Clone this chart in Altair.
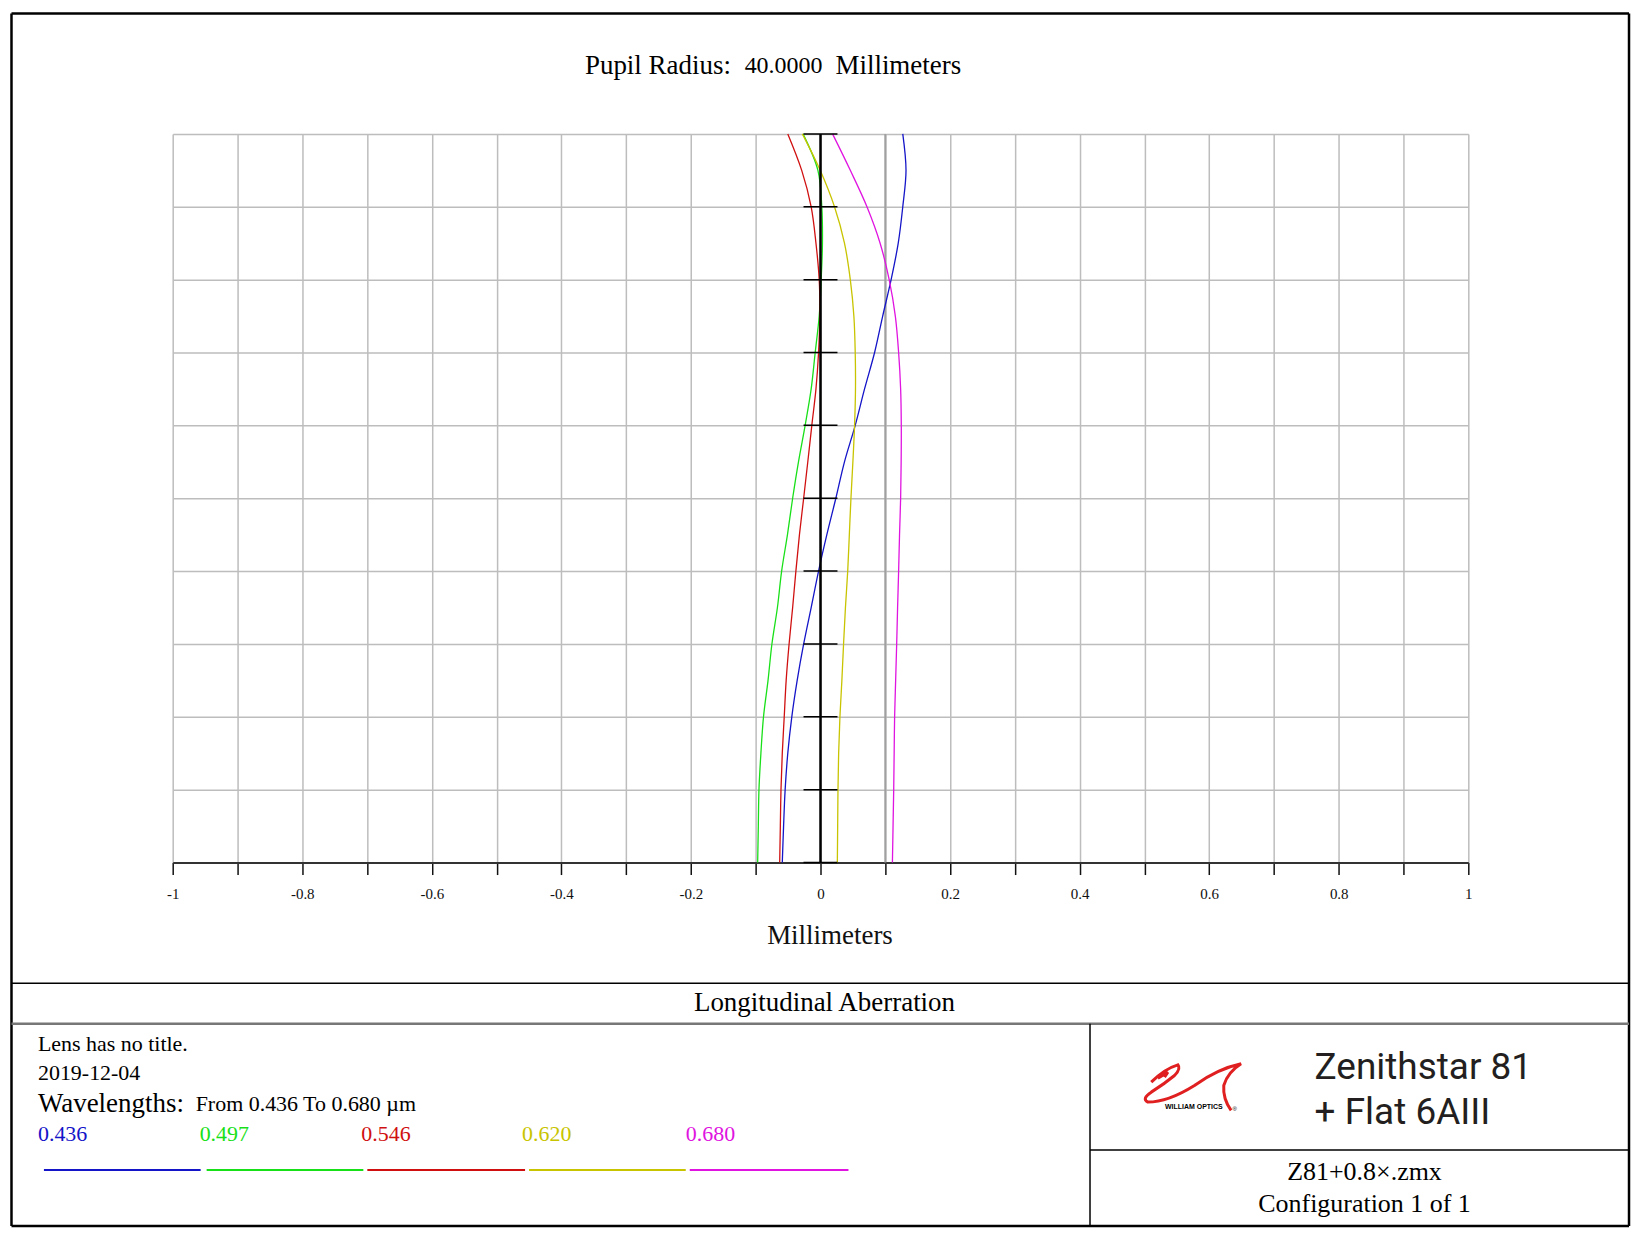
import altair as alt
import pandas as pd

# ---------------- data ----------------
pupil = [0.0, 0.05, 0.1, 0.15, 0.2, 0.25, 0.3, 0.35, 0.4, 0.45, 0.5, 0.55,
         0.6, 0.65, 0.7, 0.75, 0.8, 0.85, 0.9, 0.95, 1.0]
wl_436 = [-0.059, -0.057, -0.0546, -0.0505, -0.0443, -0.036, -0.026, -0.0144, -0.003, 0.0098, 0.0237, 0.037,
          0.0536, 0.068, 0.0835, 0.096, 0.109, 0.120, 0.127, 0.132, 0.127]
wl_497 = [-0.097, -0.096, -0.095, -0.092, -0.088, -0.081, -0.075, -0.0665, -0.060, -0.051, -0.043, -0.034,
          -0.0237, -0.0144, -0.0082, -0.002, 0.001, 0.003, 0.002, -0.004, -0.027]
wl_546 = [-0.063, -0.062, -0.061, -0.059, -0.056, -0.053, -0.0485, -0.043, -0.038, -0.0325, -0.026, -0.0196,
          -0.0134, -0.007, -0.003, -0.001, -0.002, -0.007, -0.0144, -0.029, -0.0505]
wl_620 = [0.026, 0.0265, 0.027, 0.028, 0.030, 0.033, 0.0356, 0.0385, 0.042, 0.0445, 0.047, 0.050,
          0.0526, 0.054, 0.0536, 0.0515, 0.046, 0.037, 0.0216, -0.0005, -0.028]
wl_680 = [0.111, 0.112, 0.113, 0.1137, 0.1144, 0.116, 0.1176, 0.119, 0.1206, 0.122, 0.1237, 0.1245,
          0.1247, 0.1237, 0.1206, 0.1155, 0.106, 0.092, 0.0717, 0.046, 0.0186]

wavelengths = ["0.436", "0.497", "0.546", "0.620", "0.680"]
series = [wl_436, wl_497, wl_546, wl_620, wl_680]
colors = ["#1414c8", "#18e018", "#d01010", "#c8c400", "#e014e0"]

x_ticks = [round(i * 0.1, 1) for i in range(-10, 11)]
y_ticks = [round(i * 0.1, 1) for i in range(0, 11)]

title_parts = ["Pupil Radius:", "40.0000", "Millimeters"]
x_title = "Millimeters"
footer_title = "Longitudinal Aberration"
info_lines = ["Lens has no title.", "2019-12-04"]
wl_head = ["Wavelengths:", "From 0.436 To 0.680 µm"]
brand = ["Zenithstar 81", "+ Flat 6AIII"]
logo_text = ["WILLIAM OPTICS", "®"]
file_lines = ["Z81+0.8×.zmx", "Configuration 1 of 1"]

rows = []
for name, vals in zip(wavelengths, series):
    for i, (p, v) in enumerate(zip(pupil, vals)):
        rows.append({"wl": name, "pupil": p, "mm": v, "i": i})
df = pd.DataFrame(rows)

SERIF = "Liberation Serif"
SANS = "Roboto"
one = pd.DataFrame({"k": [0]})

# ---------------- plot area ----------------
x_enc = alt.X("mm:Q", scale=alt.Scale(domain=[-1, 1], nice=False, zero=False),
              axis=alt.Axis(values=x_ticks, grid=True, gridColor="#bdbdbd", gridWidth=1.5,
                            labelExpr="(round(datum.value*10) % 2 == 0) ? toString(round(datum.value*10)/10) : ''",
                            labelFont=SERIF, labelFontSize=15, labelColor="#111", labelPadding=12,
                            labelFlush=False,
                            tickSize=12, tickColor="#111", tickWidth=1.5,
                            domainColor="#333", domainWidth=2,
                            title=x_title, titleFont=SERIF, titleFontSize=27, titleFontWeight="normal",
                            titleColor="#111", titleX=658, titleY=73, titleBaseline="middle",
                            titleAlign="center"))
y_enc = alt.Y("pupil:Q", scale=alt.Scale(domain=[0, 1], nice=False),
              axis=alt.Axis(values=y_ticks, grid=True, gridColor="#bdbdbd", gridWidth=1.5,
                            labels=False, ticks=False, domain=False, title=None))

curves = alt.Chart(df).mark_line(strokeWidth=1.3, interpolate="catmull-rom").encode(
    x=x_enc, y=y_enc,
    color=alt.Color("wl:N", scale=alt.Scale(domain=wavelengths, range=colors), legend=None),
    order="i:Q",
)

dark_grid = alt.Chart(pd.DataFrame({"mm": [0.1]})).mark_rule(color="#a0a0a0", strokeWidth=2).encode(x="mm:Q")
center_axis = alt.Chart(pd.DataFrame({"mm": [0.0]})).mark_rule(color="black", strokeWidth=2.5).encode(x="mm:Q")
center_ticks = alt.Chart(pd.DataFrame({"mm": [0.0] * len(y_ticks), "pupil": y_ticks})).mark_tick(
    orient="horizontal", size=34, thickness=1.5, color="black", opacity=1
).encode(x="mm:Q", y="pupil:Q")


# ---------------- decorations (pixel positions relative to plot origin) ----------------
def txt(s, x, y, size, color="black", font=SERIF, align="left", weight="normal"):
    return alt.Chart(pd.DataFrame({"t": [s]})).mark_text(
        align=align, baseline="middle", font=font, fontSize=size, color=color, fontWeight=weight
    ).encode(x=alt.value(x), y=alt.value(y), text="t:N")


def rule(x1, x2, y1, y2, color="black", width=2):
    return alt.Chart(one).mark_rule(color=color, strokeWidth=width).encode(
        x=alt.value(x1), x2=alt.value(x2), y=alt.value(y1), y2=alt.value(y2))


L, R, T, B = -161.5, 1459, -120.5, 1094
deco = [
    rule(L, R, T, T, width=2.5), rule(L, R, B, B, width=2.5),
    rule(L, L, T, B, width=2.5), rule(R, R, T, B, width=2.5),
    rule(L, R, 851, 851, width=1.5),
    rule(L, R, 891.5, 891.5, color="#777", width=2.5),
    rule(919, 919, 891.5, B, width=1.5),
    rule(919, R, 1018, 1018, width=1.5),
    txt(title_parts[0], 413, -68, 27),
    txt(title_parts[1], 573, -68, 24),
    txt(title_parts[2], 664, -68, 27),
    txt(footer_title, 653, 871, 27, align="center"),
    txt(info_lines[0], -135, 912, 22),
    txt(info_lines[1], -135, 941, 22),
    txt(wl_head[0], -135, 972, 27),
    txt(wl_head[1], 23, 972, 22),
    txt(brand[0], 1144, 936, 37, color="#231f20", font=SANS),
    txt(brand[1], 1144, 981, 37, color="#231f20", font=SANS),
    txt(file_lines[0], 1194, 1040, 26, align="center"),
    txt(file_lines[1], 1194, 1072, 26, align="center"),
    txt(logo_text[0], 1023, 975, 7, font="Liberation Sans", align="center", weight="bold"),
    txt(logo_text[1], 1064, 977, 6, font="Liberation Sans", align="center"),
]

label_x = [-135, 27, 189, 350, 514]
line_x = [(-129, 28), (34, 191), (195, 353), (357, 514), (518, 677)]
for name, col, lx, (a, b) in zip(wavelengths, colors, label_x, line_x):
    deco.append(txt(name, lx, 1002, 22, color=col))
    deco.append(rule(a, b, 1038, 1038, color=col, width=2))

logo_path = ("M -0.853 -0.08 Q -0.587 -0.347 -0.32 -0.427 Q -0.253 -0.347 -0.387 -0.213 "
             "Q -0.587 -0.047 -0.853 0.12 Q -1.053 0.253 -0.92 0.32 Q -0.52 0.32 0.013 -0.013 "
             "Q 0.48 -0.347 0.947 -0.447 Q 0.68 -0.28 0.6 -0.013 Q 0.58 0.253 0.747 0.487 "
             "M -0.72 -0.16 L -0.52 -0.28 L -0.587 -0.18")
logo = alt.Chart(one).mark_point(shape=logo_path, size=10000, filled=False, color="#e02020",
                                 strokeWidth=3, opacity=1).encode(x=alt.value(1023), y=alt.value(954))
deco.append(logo)

chart = alt.layer(dark_grid, curves, center_axis, center_ticks, *deco).properties(
    width=1298, height=730,
    autosize=alt.AutoSizeParams(type="none"),
    padding={"left": 165, "top": 125, "right": 169, "bottom": 372},
    background="white",
).configure_view(stroke=None)

chart.save("out.html", embed_options={"renderer": "svg", "actions": False})
